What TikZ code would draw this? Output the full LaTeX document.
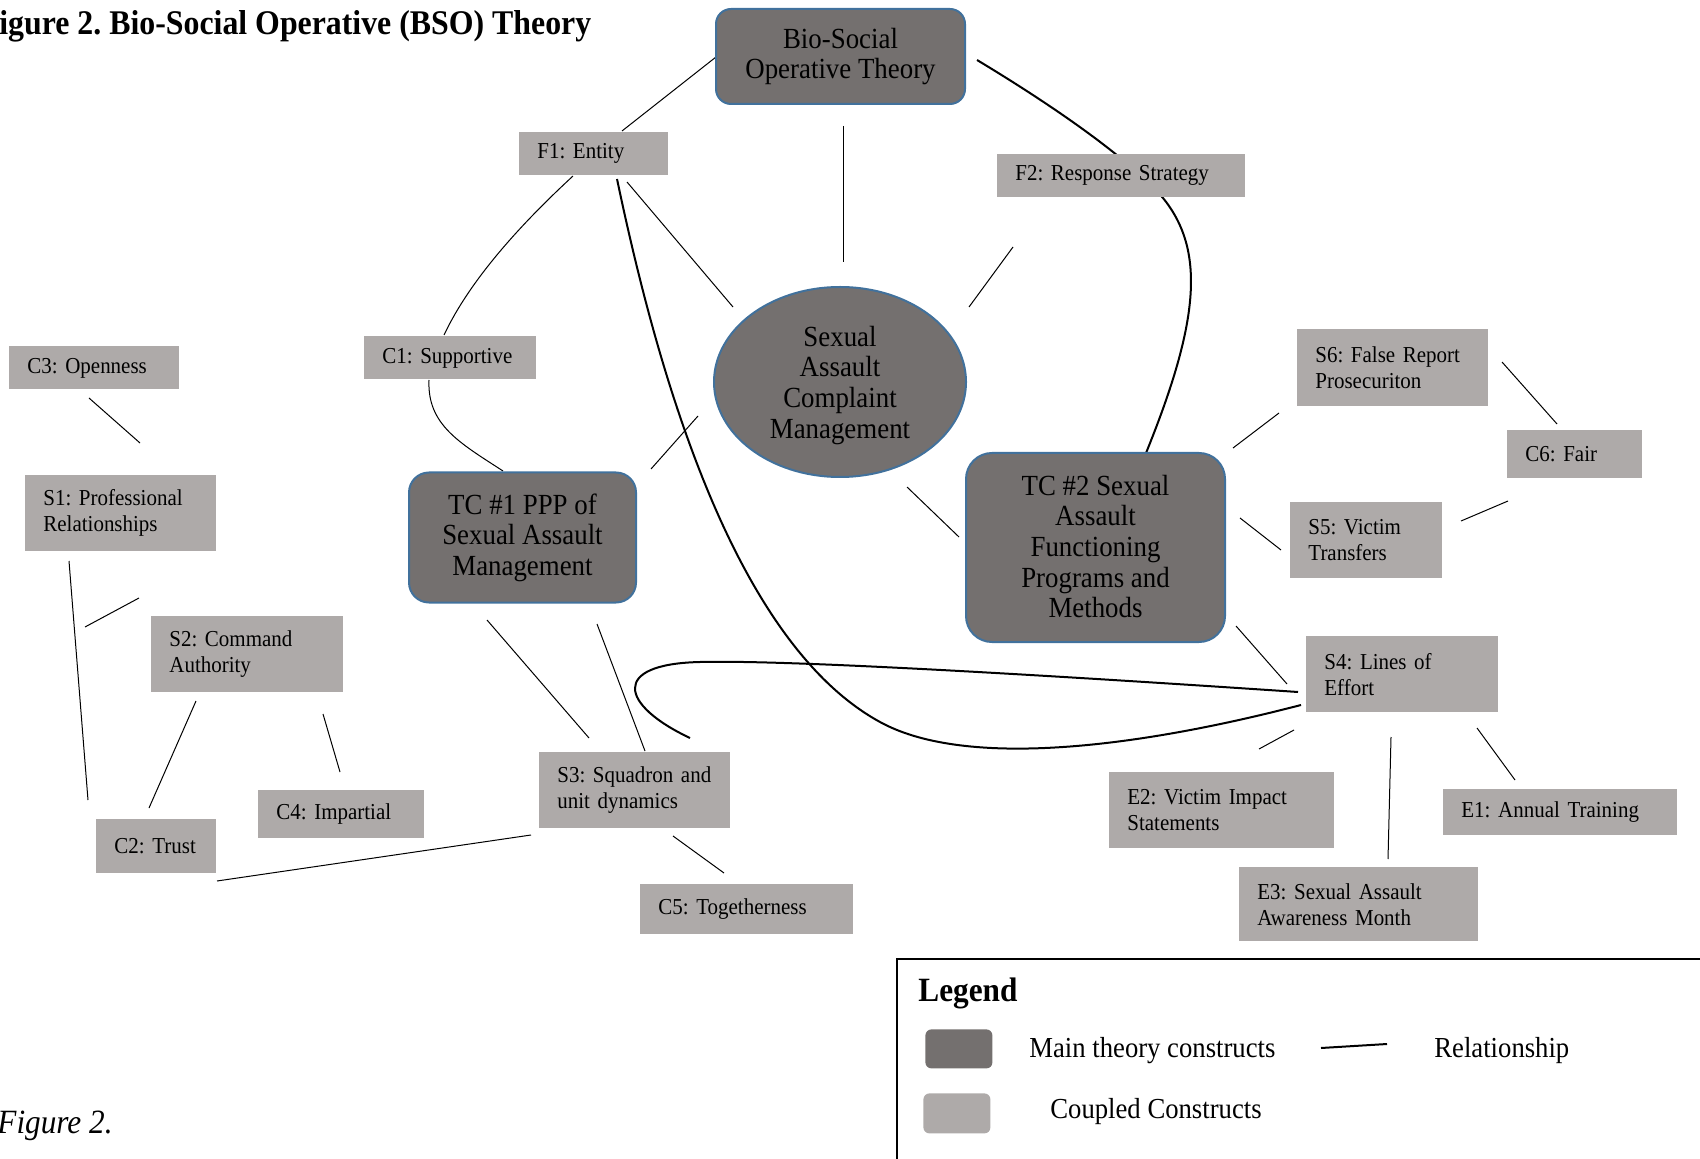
\documentclass[tikz,border=0pt]{standalone}
\usepackage{fontspec}
\setmainfont{Liberation Serif}[FakeStretch=0.92]
\usetikzlibrary{shapes.geometric}
\definecolor{darkg}{RGB}{116,112,111}
\definecolor{lightg}{RGB}{174,170,169}
\definecolor{bordb}{RGB}{65,113,156}
\frenchspacing
\begin{document}
\begin{tikzpicture}[x=0.5pt,y=-0.5pt,
  gbox/.style={fill=lightg, anchor=north west, inner xsep=9pt, inner ysep=0pt, align=left, font=\fontsize{11.4}{13}\selectfont},
  mainbox/.style={fill=darkg, draw=bordb, line width=1pt, align=center, inner sep=0pt, font=\fontsize{14.6}{15.3}\selectfont},
  rel/.style={line width=0.5pt},
  relthick/.style={line width=1pt},
  plaintext/.style={anchor=west, inner sep=0pt, font=\fontsize{14.5}{17}\selectfont}]
\useasboundingbox (0,0) rectangle (1700,1159);

% ---------- connector end points ----------
\coordinate (bsof1a) at (716,57);   \coordinate (bsof1b) at (622,131);
\coordinate (bsosca) at (843,126);  \coordinate (bsoscb) at (843,262);
\coordinate (bsotca) at (977,60);   \coordinate (bsotcb) at (1146,453);
\coordinate (f1sca) at (627,182);   \coordinate (f1scb) at (733,307);
\coordinate (f1c1a) at (573,176);   \coordinate (f1c1b) at (444,335);
\coordinate (f1s4a) at (617,179);   \coordinate (f1s4b) at (1301,705);
\coordinate (s4s3a) at (1298,692);  \coordinate (s4s3b) at (690,738);
\coordinate (tc2s4a) at (1236,626); \coordinate (tc2s4b) at (1287,684);
\coordinate (s4e2a) at (1294,730);  \coordinate (s4e2b) at (1259,749);
\coordinate (s4e3a) at (1391,737);  \coordinate (s4e3b) at (1388,859);
\coordinate (s4e1a) at (1477,728);  \coordinate (s4e1b) at (1515,780);
\coordinate (tc2s6a) at (1233,448); \coordinate (tc2s6b) at (1279,413);
\coordinate (tc2s5a) at (1240,518); \coordinate (tc2s5b) at (1281,550);
\coordinate (s6c6a) at (1502,362);  \coordinate (s6c6b) at (1557,424);
\coordinate (s5c6a) at (1461,521);  \coordinate (s5c6b) at (1508,501);
\coordinate (scf2a) at (1013,247);  \coordinate (scf2b) at (969,307);
\coordinate (sctc2a) at (907,487);  \coordinate (sctc2b) at (959,537);
\coordinate (sctc1a) at (698,416);  \coordinate (sctc1b) at (651,469);
\coordinate (c1tc1a) at (429,380);  \coordinate (c1tc1b) at (503,471);
\coordinate (c3s1a) at (89,398);    \coordinate (c3s1b) at (140,443);
\coordinate (s1s2a) at (139,598);   \coordinate (s1s2b) at (85,627);
\coordinate (s1c2a) at (69,561);    \coordinate (s1c2b) at (88,800);
\coordinate (s2c2a) at (196,701);   \coordinate (s2c2b) at (149,808);
\coordinate (s2c4a) at (323,714);   \coordinate (s2c4b) at (340,772);
\coordinate (c2s3a) at (217,881);   \coordinate (c2s3b) at (531,835);
\coordinate (tc1s3a) at (487,620);  \coordinate (tc1s3b) at (589,738);
\coordinate (tc1s3c) at (597,624);  \coordinate (tc1s3d) at (645,751);
\coordinate (s3c5a) at (673,836);   \coordinate (s3c5b) at (724,873);

% ---------- connectors ----------
\draw[rel] (bsof1a) -- (bsof1b);
\draw[rel] (bsosca) -- (bsoscb);
\draw[relthick] (bsotca) .. controls (1060,110) and (1130,160) .. (1163,198)
                .. controls (1205,250) and (1200,320) .. (bsotcb);
\draw[rel] (f1sca) -- (f1scb);
\draw[rel] (f1c1a) .. controls (520,225) and (470,280) .. (f1c1b);
\draw[relthick] (f1s4a) .. controls (655,360) and (730,640) .. (880,722)
                .. controls (960,766) and (1120,752) .. (f1s4b);
\draw[relthick] (s4s3a) .. controls (1000,672) and (780,660) .. (700,662)
                .. controls (610,664) and (620,705) .. (s4s3b);
\draw[rel] (tc2s4a) -- (tc2s4b);
\draw[rel] (s4e2a) -- (s4e2b);
\draw[rel] (s4e3a) -- (s4e3b);
\draw[rel] (s4e1a) -- (s4e1b);
\draw[rel] (tc2s6a) -- (tc2s6b);
\draw[rel] (tc2s5a) -- (tc2s5b);
\draw[rel] (s6c6a) -- (s6c6b);
\draw[rel] (s5c6a) -- (s5c6b);
\draw[rel] (scf2a) -- (scf2b);
\draw[rel] (sctc2a) -- (sctc2b);
\draw[rel] (sctc1a) -- (sctc1b);
\draw[rel] (c1tc1a) .. controls (427,425) and (460,443) .. (c1tc1b);
\draw[rel] (c3s1a) -- (c3s1b);
\draw[rel] (s1s2a) -- (s1s2b);
\draw[rel] (s1c2a) -- (s1c2b);
\draw[rel] (s2c2a) -- (s2c2b);
\draw[rel] (s2c4a) -- (s2c4b);
\draw[rel] (c2s3a) -- (c2s3b);
\draw[rel] (tc1s3a) -- (tc1s3b);
\draw[rel] (tc1s3c) -- (tc1s3d);
\draw[rel] (s3c5a) -- (s3c5b);

% ---------- main constructs ----------
\node[mainbox, rounded corners=7.5pt, minimum width=124.5pt, minimum height=47.5pt] (bso) at (840.5,56.5) {Bio-Social\\Operative Theory};
\node[mainbox, ellipse, minimum width=126pt, minimum height=95pt, text depth=-0.8pt] (sacm) at (840,382) {Sexual\\Assault\\Complaint\\Management};
\node[mainbox, rounded corners=10pt, minimum width=113.5pt, minimum height=65pt] (tc1) at (522.5,537.5) {TC \#1 PPP of\\Sexual Assault\\Management};
\node[mainbox, rounded corners=13pt, minimum width=129.5pt, minimum height=94.5pt, text depth=1.2pt] (tc2) at (1095.5,547.5) {TC \#2 Sexual\\Assault\\Functioning\\Programs and\\Methods};

% ---------- coupled constructs ----------
\node[gbox, text width=56.5pt, minimum height=21.5pt] (f1) at (519,132) {F1: Entity};
\node[gbox, text width=106pt, minimum height=21.5pt] (f2) at (997,154) {F2: Response Strategy};
\node[gbox, text width=68pt, minimum height=21.5pt] (c1) at (364,336) {C1: Supportive};
\node[gbox, text width=67pt, minimum height=21.5pt] (c3) at (9,346) {C3: Openness};
\node[gbox, text width=77.5pt, minimum height=38pt] (s1) at (25,475) {S1: Professional\\Relationships};
\node[gbox, text width=78pt, minimum height=38pt] (s2) at (151,616) {S2: Command\\Authority};
\node[gbox, text width=65pt, minimum height=24pt] (c4) at (258,790) {C4: Impartial};
\node[gbox, text width=42pt, minimum height=27pt] (c2) at (96,819) {C2: Trust};
\node[gbox, text width=77.5pt, minimum height=38pt] (s3) at (539,752) {S3: Squadron and\\unit dynamics};
\node[gbox, text width=88.5pt, minimum height=25pt] (c5) at (640,884) {C5: Togetherness};
\node[gbox, text width=77.5pt, minimum height=38.5pt] (s6) at (1297,329) {S6: False Report\\Prosecuriton};
\node[gbox, text width=49.5pt, minimum height=24pt] (c6) at (1507,430) {C6: Fair};
\node[gbox, text width=58pt, minimum height=38pt] (s5) at (1290,502) {S5: Victim\\Transfers};
\node[gbox, text width=78pt, minimum height=38pt] (s4) at (1306,636) {S4: Lines of\\Effort};
\node[gbox, text width=94.5pt, minimum height=38pt] (e2) at (1109,772) {E2: Victim Impact\\Statements};
\node[gbox, text width=99pt, minimum height=23pt] (e1) at (1443,789) {E1: Annual Training};
\node[gbox, text width=101.5pt, minimum height=37pt] (e3) at (1239,867) {E3: Sexual Assault\\Awareness Month};

% ---------- titles ----------
\node[anchor=base west, inner sep=0pt, font=\fontsize{17.3}{20}\selectfont\bfseries] (title) at (-1,35) {igure 2. Bio-Social Operative (BSO) Theory};
\node[anchor=base west, inner sep=0pt, font=\fontsize{17}{20}\selectfont\itshape] (figlbl) at (-3,1133) {Figure 2.};

% ---------- legend ----------
\draw[line width=1.2pt] (897,1159) -- (897,959) -- (1700,959);
\node[anchor=west, inner sep=0pt, font=\fontsize{17}{20}\selectfont\bfseries] (legend) at (918,993) {Legend};
\node[fill=darkg, rounded corners=3pt, minimum width=33.5pt, minimum height=19.5pt, inner sep=0pt, anchor=north west] (swdark) at (925,1029) {};
\node[fill=lightg, rounded corners=3pt, minimum width=33.5pt, minimum height=20pt, inner sep=0pt, anchor=north west] (swlight) at (923,1093) {};
\node[plaintext] (lmain) at (1029,1051) {Main theory constructs};
\coordinate (rla) at (1321,1048); \coordinate (rlb) at (1387,1044);
\draw[line width=1pt] (rla) -- (rlb);
\node[plaintext] (lrel) at (1434,1051) {Relationship};
\node[plaintext] (lcoup) at (1050,1112) {Coupled Constructs};
\end{tikzpicture}
\end{document}
